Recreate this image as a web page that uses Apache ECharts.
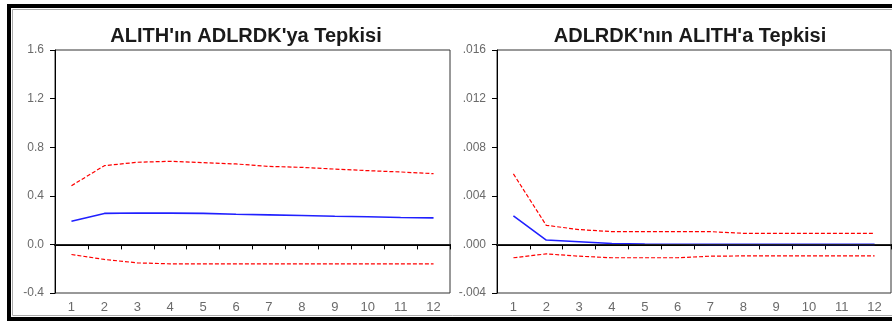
<!DOCTYPE html>
<html>
<head>
<meta charset="utf-8">
<script src="https://cdn.jsdelivr.net/npm/echarts@6/dist/echarts.min.js"></script>
<style>
html,body{margin:0;padding:0;background:#fff;}
#c{width:892px;height:322px;}
</style>
</head>
<body>
<div id="c"></div>
<script>
var periods = ['1','2','3','4','5','6','7','8','9','10','11','12'];

var titleLeft = "ALITH'ın ADLRDK'ya Tepkisi";
var titleRight = "ADLRDK'nın ALITH'a Tepkisi";

// Left: ALITH response to ADLRDK
var leftResp  = [0.190, 0.255, 0.258, 0.257, 0.255, 0.248, 0.243, 0.238, 0.232, 0.228, 0.222, 0.218];
var leftUpper = [0.483, 0.648, 0.676, 0.684, 0.673, 0.662, 0.642, 0.634, 0.620, 0.607, 0.596, 0.582];
var leftLower = [-0.083, -0.124, -0.152, -0.160, -0.160, -0.160, -0.160, -0.160, -0.160, -0.160, -0.160, -0.160];

// Right: ADLRDK response to ALITH
var rightResp  = [0.00234, 0.00036, 0.00022, 0.00008, 0.00003, 0.00001, 0.0, 0.0, 0.0, 0.0, 0.0, 0.0];
var rightUpper = [0.0058, 0.00157, 0.00122, 0.00105, 0.00105, 0.00105, 0.00105, 0.00091, 0.00091, 0.00091, 0.00091, 0.00091];
var rightLower = [-0.0011, -0.00078, -0.00097, -0.0011, -0.0011, -0.0011, -0.00097, -0.00095, -0.00095, -0.00095, -0.00095, -0.00095];

var FONT = 'Liberation Sans';
var labelColor = '#6a6a6a';

function fmtRight(v){
  if (Math.abs(v) < 1e-12) return '.000';
  var s = Math.abs(v).toFixed(3).replace(/^0/, '');
  return (v < 0 ? '-' : '') + s;
}

function xAxis(gi){
  return {
    type: 'category', gridIndex: gi, data: periods, boundaryGap: true,
    axisLine: {show: true, lineStyle: {color: '#000', width: 2}},
    axisTick: {show: true, length: 5, lineStyle: {color: '#000', width: 1}},
    axisLabel: {color: labelColor, fontFamily: FONT, fontSize: 13, margin: 8},
    splitLine: {show: false}
  };
}
function yAxis(gi, min, max, interval, fmt){
  return {
    type: 'value', gridIndex: gi, min: min, max: max, interval: interval,
    axisLine: {show: true, lineStyle: {color: '#000', width: 1}},
    axisTick: {show: true, length: 5, lineStyle: {color: '#000'}},
    axisLabel: {color: labelColor, fontFamily: FONT, fontSize: 12, margin: 11, formatter: fmt},
    splitLine: {show: false}
  };
}
function line(gi, data, color, dashed, zero){
  var s = {
    type: 'line', xAxisIndex: gi, yAxisIndex: gi, data: data,
    symbol: 'none', silent: true, animation: false,
    lineStyle: {color: color, width: dashed ? 1.2 : 1.6, type: dashed ? [4, 2] : 'solid'}
  };
  if (zero) {
    s.markLine = {
      silent: true, symbol: 'none', animation: false,
      label: {show: false},
      lineStyle: {color: '#222', width: 1, type: 'solid'},
      data: [{yAxis: 0}]
    };
  }
  return s;
}

var chart = echarts.init(document.getElementById('c'), null, {renderer: 'canvas'});
chart.setOption({
  animation: false,
  backgroundColor: '#fff',
  title: [
    {text: titleLeft, left: 241, top: 21, textAlign: 'center',
     textStyle: {fontFamily: FONT, fontWeight: 'bold', fontSize: 20, color: '#1a1a1a'}},
    {text: titleRight, left: 685, top: 21, textAlign: 'center',
     textStyle: {fontFamily: FONT, fontWeight: 'bold', fontSize: 20, color: '#1a1a1a'}}
  ],
  grid: [
    {left: 55, top: 50, width: 395, height: 243, show: true, borderColor: '#333', borderWidth: 1, backgroundColor: 'transparent'},
    {left: 497, top: 50, width: 394, height: 243, show: true, borderColor: '#333', borderWidth: 1, backgroundColor: 'transparent'}
  ],
  xAxis: [xAxis(0), xAxis(1)],
  yAxis: [
    yAxis(0, -0.4, 1.6, 0.4, function(v){ return v.toFixed(1); }),
    yAxis(1, -0.004, 0.016, 0.004, fmtRight)
  ],
  series: [
    line(0, leftResp, '#2020ff', false, true),
    line(0, leftUpper, '#ff0000', true),
    line(0, leftLower, '#ff0000', true),
    line(1, rightResp, '#2020ff', false, true),
    line(1, rightUpper, '#ff0000', true),
    line(1, rightLower, '#ff0000', true)
  ],
  graphic: [
    {type: 'rect', silent: true, z: 100,
     shape: {x: 9, y: 6, width: 900, height: 313},
     style: {fill: 'none', stroke: '#000', lineWidth: 4}},
    {type: 'rect', silent: true, z: 100,
     shape: {x: 12.5, y: 9.5, width: 900, height: 306},
     style: {fill: 'none', stroke: '#aaa', lineWidth: 1}}
  ]
});
</script>
</body>
</html>
